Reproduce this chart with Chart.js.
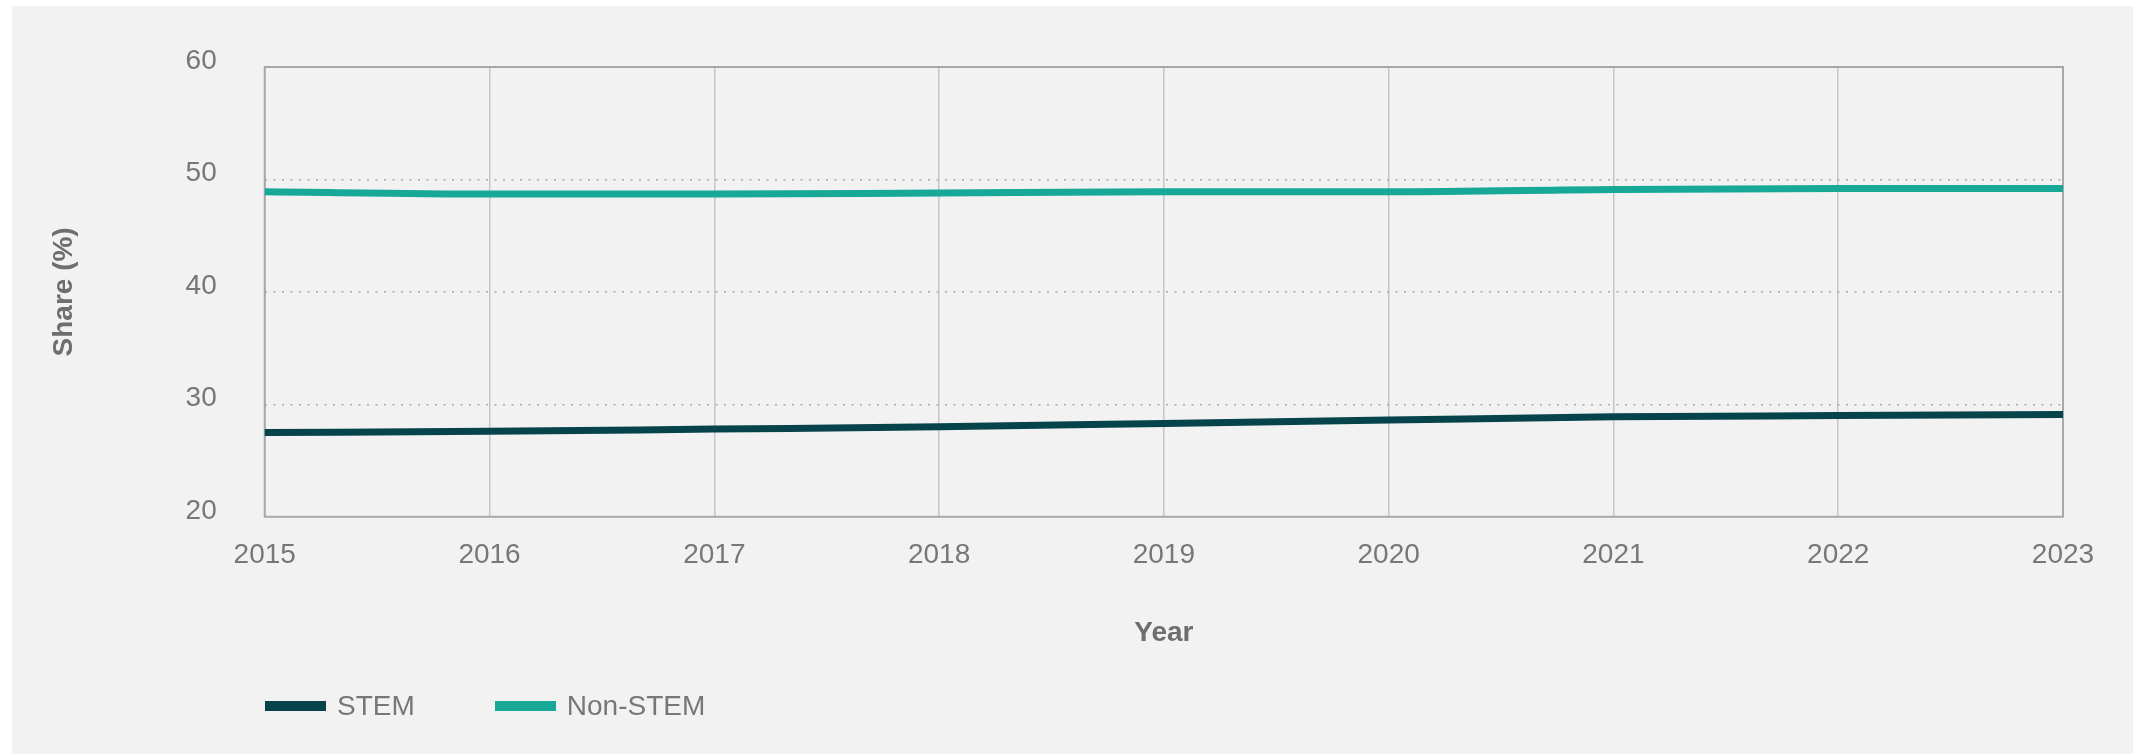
<!DOCTYPE html>
<html>
<head>
<meta charset="utf-8">
<script src="https://cdn.jsdelivr.net/npm/chart.js@4"></script>
<style>
  html, body { margin: 0; padding: 0; background: #ffffff; }
  #panel {
    position: absolute; left: 12px; top: 6px;
    width: 2121px; height: 748px;
    background: #f2f2f2;
  }
  #wrap { position: absolute; left: 0; top: 0; width: 2121px; height: 748px; }
  #legend {
    position: absolute; left: 253px; top: 684px;
    display: flex; align-items: center;
    font-family: "Liberation Sans", Arial, sans-serif;
    font-size: 28px; color: #777777;
  }
  #legend .item { display: flex; align-items: center; margin-right: 80px; }
  #legend .swatch { width: 61px; height: 10px; margin-right: 11px; }
</style>
</head>
<body>
<div id="panel">
  <div id="wrap"><canvas id="chart"></canvas></div>
  <div id="legend"></div>
</div>
<script>
const years = ['2015', '2016', '2017', '2018', '2019', '2020', '2021', '2022', '2023'];
const stemShare = [27.5, 27.6, 27.8, 28.0, 28.3, 28.6, 28.9, 29.0, 29.1];
const nonStemShare = [48.9, 48.7, 48.7, 48.8, 48.9, 48.9, 49.1, 49.2, 49.2];
const seriesNames = ['STEM', 'Non-STEM'];
const seriesColors = ['#06434b', '#17a898'];

const fontFamily = '"Liberation Sans", Arial, sans-serif';
const textGrey = '#777777';

// plot frame drawn under the lines
const frame = {
  id: 'frame',
  beforeDatasetsDraw(chart) {
    const { ctx, chartArea: a } = chart;
    ctx.save();
    ctx.strokeStyle = '#a8a8a8';
    ctx.lineWidth = 2;
    ctx.strokeRect(a.left, a.top, a.right - a.left, a.bottom - a.top);
    ctx.restore();
  }
};

const chart = new Chart(document.getElementById('chart'), {
  type: 'line',
  data: {
    labels: years,
    datasets: [stemShare, nonStemShare].map((values, i) => ({
      label: seriesNames[i],
      data: values,
      borderColor: seriesColors[i],
      backgroundColor: seriesColors[i],
      borderWidth: 7,
      pointRadius: 0,
      cubicInterpolationMode: 'monotone',
      fill: false
    }))
  },
  options: {
    responsive: true,
    maintainAspectRatio: false,
    animation: false,
    layout: { padding: { left: 12, right: 70, top: 61, bottom: 104 } },
    plugins: {
      legend: { display: false },
      tooltip: { enabled: false }
    },
    scales: {
      x: {
        grid: { color: '#c6c6c6', lineWidth: 1.5, drawTicks: false },
        border: { display: false },
        ticks: {
          padding: 22,
          color: textGrey,
          font: { family: fontFamily, size: 28 },
          maxRotation: 0
        },
        title: {
          display: true,
          text: 'Year',
          color: '#6e6e6e',
          font: { family: fontFamily, size: 28, weight: 'bold' },
          padding: { top: 22, bottom: 0 }
        }
      },
      y: {
        min: 20,
        max: 60,
        grid: {
          color: c => (c.tick && (c.tick.value === 20 || c.tick.value === 60)) ? 'rgba(0,0,0,0)' : '#a9a9a9',
          lineWidth: 1.5,
          tickLength: 40,
          tickColor: 'rgba(0,0,0,0)'
        },
        border: { display: false, dash: [2, 6.5] },
        ticks: {
          stepSize: 10,
          padding: 8,
          labelOffset: -6,
          color: textGrey,
          font: { family: fontFamily, size: 28 }
        },
        title: {
          display: true,
          text: 'Share (%)',
          color: '#6e6e6e',
          font: { family: fontFamily, size: 28, weight: 'bold' },
          padding: { top: 23, bottom: 97 }
        }
      }
    }
  },
  plugins: [frame]
});

// legend built from the chart's own datasets
const legend = document.getElementById('legend');
chart.data.datasets.forEach(ds => {
  const item = document.createElement('div');
  item.className = 'item';
  const sw = document.createElement('span');
  sw.className = 'swatch';
  sw.style.background = ds.borderColor;
  const txt = document.createElement('span');
  txt.textContent = ds.label;
  item.appendChild(sw);
  item.appendChild(txt);
  legend.appendChild(item);
});
</script>
</body>
</html>
